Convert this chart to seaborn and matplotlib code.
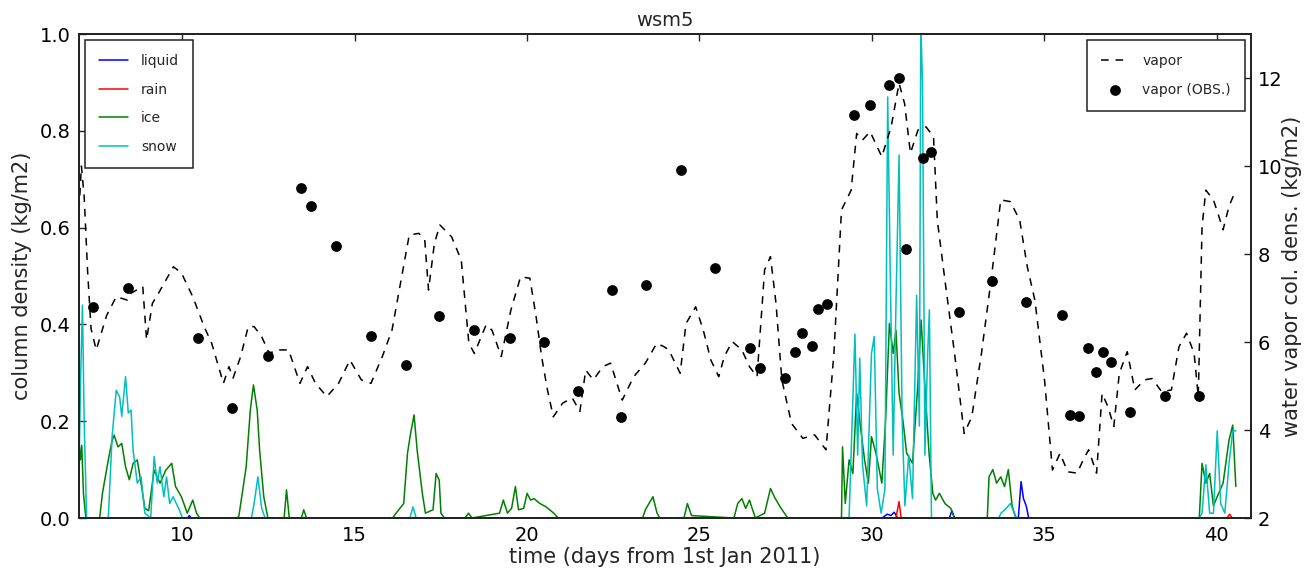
import matplotlib
matplotlib.use("Agg")
import matplotlib.pyplot as plt
import seaborn as sns
import pandas as pd

# ---------------- data ----------------
vap_t = [7.0, 7.07, 7.15, 7.25, 7.35, 7.5, 7.8, 8.08, 8.41, 8.51,
         8.85, 8.96, 9.13, 9.3, 9.74, 9.97, 10.3, 10.63, 10.85, 11.19,
         11.35, 11.47, 11.69, 11.91, 12.08, 12.3, 12.52, 12.74, 13.08, 13.41,
         13.63, 13.86, 14.19, 14.53, 14.86, 15.19, 15.47, 15.8, 16.08, 16.36,
         16.58, 16.86, 17.03, 17.14, 17.31, 17.47, 17.81, 18.09, 18.31, 18.47,
         18.81, 18.98, 19.25, 19.53, 19.81, 20.08, 20.26, 20.42, 20.59, 20.76,
         21.03, 21.31, 21.53, 21.7, 21.92, 22.2, 22.42, 22.76, 23.09, 23.43,
         23.76, 23.98, 24.11, 24.44, 24.61, 24.89, 25.11, 25.33, 25.56, 25.72,
         25.95, 26.23, 26.45, 26.67, 26.89, 27.06, 27.22, 27.39, 27.67, 28.0,
         28.34, 28.67, 28.9, 29.12, 29.4, 29.56, 29.73, 29.95, 30.29, 30.56,
         30.79, 30.95, 31.12, 31.34, 31.57, 31.79, 31.9, 32.12, 32.4, 32.68,
         32.9, 33.18, 33.46, 33.74, 34.02, 34.29, 34.51, 34.73, 35.01, 35.24,
         35.46, 35.68, 35.96, 36.13, 36.29, 36.52, 36.68, 36.85, 37.02, 37.18,
         37.41, 37.63, 37.91, 38.13, 38.41, 38.69, 38.91, 39.13, 39.35, 39.47,
         39.58, 39.69, 39.91, 40.07, 40.19, 40.36, 40.52]
vap_v = [9.0, 10.0, 9.3, 7.6, 6.3, 5.82, 6.6, 7.03, 6.95, 7.11,
         7.26, 6.05, 6.88, 7.1, 7.71, 7.57, 7.03, 6.35, 5.97, 5.06,
         5.44, 5.18, 5.67, 6.35, 6.35, 6.12, 5.74, 5.82, 5.82, 5.06,
         5.44, 5.06, 4.76, 5.06, 5.59, 5.14, 5.06, 5.67, 6.27, 7.48,
         8.43, 8.47, 8.32, 7.18, 8.24, 8.66, 8.39, 7.86, 5.97, 5.74,
         6.39, 6.27, 5.67, 6.73, 7.48, 7.45, 6.58, 5.67, 4.91, 4.3,
         4.61, 4.73, 4.42, 5.36, 5.14, 5.44, 5.52, 4.68, 5.21, 5.52,
         5.97, 5.89, 5.82, 5.29, 6.42, 6.8, 6.27, 5.59, 5.21, 5.67,
         6.01, 5.82, 5.44, 5.21, 7.64, 7.94, 6.88, 5.14, 4.15, 3.81,
         3.89, 3.55, 5.74, 9.0, 9.45, 10.74, 10.59, 10.78, 10.21, 10.89,
         11.88, 11.42, 10.29, 10.82, 10.89, 10.67, 8.77, 7.41, 5.74, 3.92,
         4.3, 5.74, 7.41, 9.23, 9.19, 8.77, 7.71, 6.95, 5.14, 3.09,
         3.47, 3.05, 3.02, 3.32, 3.55, 3.02, 4.83, 4.53, 4.08, 5.29,
         5.78, 4.91, 5.14, 5.17, 4.87, 4.91, 5.89, 6.2, 5.74, 4.76,
         8.62, 9.45, 9.23, 8.85, 8.55, 9.08, 9.38]

obs_t = [7.41, 8.42, 10.46, 11.45, 12.49, 13.45, 13.74, 14.47, 15.46, 16.48,
         17.44, 18.45, 19.5, 20.49, 21.48, 22.47, 22.73, 23.45, 24.47, 25.46,
         26.48, 26.77, 27.47, 27.76, 27.96, 28.25, 28.45, 28.69, 29.47, 29.94,
         30.49, 30.78, 30.98, 31.48, 31.71, 32.52, 33.48, 34.47, 35.52, 35.75,
         36.01, 36.27, 36.51, 36.71, 36.94, 37.49, 38.51, 39.5]
obs_v = [6.8, 7.23, 6.09, 4.5, 5.68, 9.5, 9.09, 8.18, 6.14, 5.48,
         6.59, 6.27, 6.09, 6.0, 4.89, 7.18, 4.3, 7.3, 9.91, 7.68,
         5.86, 5.41, 5.18, 5.77, 6.2, 5.91, 6.75, 6.86, 11.16, 11.39,
         11.84, 12.0, 8.11, 10.18, 10.32, 6.68, 7.39, 6.91, 6.61, 4.34,
         4.32, 5.86, 5.32, 5.77, 5.55, 4.41, 4.77, 4.77]

liq_t = [7.0, 10.15, 10.2, 10.25, 30.3, 30.45, 30.55, 30.65, 30.75, 32.25,
         32.32, 32.4, 34.25, 34.33, 34.4, 34.48, 34.55, 40.56]
liq_v = [0.0, 0.0, 0.005, 0.0, 0.0, 0.008, 0.005, 0.012, 0.0, 0.0,
         0.015, 0.0, 0.0, 0.075, 0.04, 0.025, 0.0, 0.0]

rain_t = [7.0, 30.7, 30.79, 30.85, 40.3, 40.38, 40.45, 40.56]
rain_v = [0.0, 0.0, 0.034, 0.0, 0.0, 0.008, 0.0, 0.0]

ice_t = [7.0, 7.04, 7.08, 7.13, 7.2, 7.6, 7.68, 7.85, 7.96, 8.02,
         8.13, 8.24, 8.35, 8.46, 8.57, 8.69, 8.8, 8.91, 9.02, 9.18,
         9.35, 9.52, 9.69, 9.8, 9.97, 10.14, 10.3, 10.41, 10.5, 11.6,
         11.64, 11.85, 11.97, 12.06, 12.17, 12.24, 12.36, 12.48, 12.95, 13.02,
         13.1, 13.45, 13.52, 13.6, 16.1, 16.2, 16.42, 16.53, 16.62, 16.72,
         16.81, 16.89, 16.96, 17.05, 17.27, 17.36, 17.45, 17.5, 17.6, 18.2,
         18.3, 18.4, 19.2, 19.31, 19.43, 19.55, 19.66, 19.75, 19.9, 20.0,
         20.1, 20.2, 20.37, 20.55, 20.77, 20.9, 23.35, 23.43, 23.65, 23.77,
         23.85, 24.55, 24.65, 24.77, 26.0, 26.11, 26.23, 26.34, 26.45, 26.62,
         26.89, 27.06, 27.17, 27.34, 27.56, 29.12, 29.15, 29.23, 29.34, 29.45,
         29.56, 29.68, 29.79, 29.9, 29.99, 30.12, 30.29, 30.4, 30.51, 30.62,
         30.7, 30.79, 30.9, 31.01, 31.18, 31.33, 31.43, 31.54, 31.66, 31.77,
         31.85, 31.96, 32.12, 32.29, 32.4, 33.35, 33.4, 33.51, 33.62, 33.74,
         33.85, 33.96, 34.07, 34.18, 39.5, 39.58, 39.69, 39.8, 39.91, 40.02,
         40.19, 40.36, 40.47, 40.56]
ice_v = [0.16, 0.12, 0.15, 0.05, 0.0, 0.0, 0.051, 0.12, 0.16, 0.171,
         0.147, 0.154, 0.106, 0.079, 0.113, 0.12, 0.072, 0.02, 0.015, 0.099,
         0.072, 0.099, 0.113, 0.065, 0.044, 0.01, 0.037, 0.01, 0.0, 0.0,
         0.005, 0.106, 0.223, 0.275, 0.223, 0.14, 0.044, 0.0, 0.0, 0.058,
         0.0, 0.0, 0.017, 0.0, 0.0, 0.01, 0.03, 0.134, 0.175, 0.213,
         0.14, 0.092, 0.051, 0.01, 0.017, 0.092, 0.078, 0.01, 0.0, 0.0,
         0.01, 0.0, 0.01, 0.037, 0.01, 0.02, 0.065, 0.017, 0.02, 0.051,
         0.037, 0.04, 0.03, 0.023, 0.01, 0.0, 0.0, 0.017, 0.044, 0.01,
         0.0, 0.0, 0.03, 0.005, 0.0, 0.03, 0.04, 0.02, 0.037, 0.0,
         0.01, 0.061, 0.044, 0.023, 0.0, 0.0, 0.147, 0.03, 0.12, 0.092,
         0.258, 0.182, 0.12, 0.072, 0.168, 0.134, 0.072, 0.203, 0.402, 0.34,
         0.388, 0.258, 0.203, 0.134, 0.113, 0.271, 0.409, 0.271, 0.134, 0.051,
         0.037, 0.051, 0.03, 0.02, 0.0, 0.0, 0.085, 0.1, 0.072, 0.085,
         0.065, 0.1, 0.025, 0.0, 0.0, 0.113, 0.072, 0.092, 0.025, 0.044,
         0.072, 0.16, 0.192, 0.065]

snow_t = [7.0, 7.05, 7.1, 7.15, 7.22, 7.85, 7.96, 8.08, 8.18, 8.24,
          8.35, 8.43, 8.51, 8.57, 8.69, 8.8, 8.91, 9.08, 9.18, 9.27,
          9.35, 9.46, 9.54, 9.63, 9.73, 9.91, 10.0, 12.0, 12.08, 12.19,
          12.3, 12.4, 16.6, 16.69, 16.78, 29.34, 29.51, 29.59, 29.65, 29.73,
          29.85, 29.99, 30.07, 30.16, 30.27, 30.38, 30.46, 30.54, 30.62, 30.7,
          30.79, 30.88, 30.96, 31.07, 31.18, 31.3, 31.38, 31.42, 31.47, 31.54,
          31.62, 31.67, 31.73, 33.68, 33.75, 33.9, 34.02, 34.13, 34.2, 39.5,
          39.58, 39.69, 39.8, 39.91, 40.02, 40.12, 40.24, 40.36, 40.47, 40.56]
snow_v = [0.1, 0.3, 0.44, 0.2, 0.0, 0.0, 0.168, 0.264, 0.25, 0.21,
          0.292, 0.217, 0.223, 0.14, 0.072, 0.085, 0.01, 0.0, 0.127, 0.072,
          0.106, 0.044, 0.085, 0.03, 0.044, 0.017, 0.0, 0.0, 0.03, 0.085,
          0.02, 0.0, 0.0, 0.023, 0.0, 0.0, 0.38, 0.13, 0.33, 0.11,
          0.025, 0.34, 0.375, 0.06, 0.01, 0.06, 0.87, 0.48, 0.13, 0.44,
          0.75, 0.2, 0.025, 0.13, 0.04, 0.46, 0.19, 1.02, 0.9, 0.13,
          0.34, 0.43, 0.0, 0.0, 0.01, 0.02, 0.03, 0.01, 0.0, 0.0,
          0.01, 0.11, 0.01, 0.01, 0.18, 0.03, 0.01, 0.11, 0.18, 0.18]

x_ticks = [10, 15, 20, 25, 30, 35, 40]
left_ticks = [0.0, 0.2, 0.4, 0.6, 0.8, 1.0]
right_ticks = [2, 4, 6, 8, 10, 12]

# ---------------- style ----------------
sns.set_theme(style="white")
plt.rcParams['font.family'] = ['DejaVu Sans']
plt.rcParams['axes.edgecolor'] = '#222222'
plt.rcParams['axes.linewidth'] = 1.3

W, H = 1305, 573
fig = plt.figure(figsize=(W / 100, H / 100), dpi=100)
ax = fig.add_axes([79 / W, (H - 518) / H, (1251 - 79) / W, (518 - 34) / H])

series = [(liq_t, liq_v, '#0000ff', 'liquid'),
          (rain_t, rain_v, '#ff0000', 'rain'),
          (ice_t, ice_v, '#008000', 'ice'),
          (snow_t, snow_v, '#00bfbf', 'snow')]
for t, v, c, lab in series:
    df = pd.DataFrame({'t': t, 'v': v})
    sns.lineplot(data=df, x='t', y='v', ax=ax, color=c, lw=1.1, label=lab,
                 estimator=None, sort=False, legend=False)

ax.set_xlim(7, 41)
ax.set_ylim(0, 1)
ax.set_xticks(x_ticks)
ax.set_yticks(left_ticks)
ax.set_yticklabels([f"{v:.1f}" for v in left_ticks])
ax.tick_params(axis='both', direction='in', length=5, width=1, labelsize=14,
               colors='#222222', labelcolor='black', pad=6)
ax.tick_params(axis='x', top=True)
ax.set_xlabel('time (days from 1st Jan 2011)', fontsize=15, labelpad=1)
ax.set_ylabel('column density (kg/m2)', fontsize=15)
ax.yaxis.set_label_coords(-0.040, 0.5)
ax.set_title('wsm5', fontsize=14, pad=6)

leg1 = ax.legend(loc='upper left', fontsize=10, frameon=True, fancybox=False,
                 edgecolor='#222222', framealpha=1, borderpad=1.0,
                 labelspacing=1.05, handlelength=2.1, handletextpad=0.9,
                 borderaxespad=0.45)
leg1.get_frame().set_linewidth(1.1)

ax2 = ax.twinx()
dfv = pd.DataFrame({'t': vap_t, 'v': vap_v})
sns.lineplot(data=dfv, x='t', y='v', ax=ax2, color='black', lw=1.1,
             label='vapor', estimator=None, sort=False, legend=False)
ax2.lines[-1].set_linestyle((0, (5, 4.5)))
dfo = pd.DataFrame({'t': obs_t, 'v': obs_v})
sns.scatterplot(data=dfo, x='t', y='v', ax=ax2, color='black', s=60,
                edgecolor='black', linewidth=0, label='vapor (OBS.)',
                legend=False, zorder=4)
ax2.set_ylim(2, 13)
ax2.set_yticks(right_ticks)
ax2.tick_params(axis='y', direction='in', length=5, width=1, labelsize=14,
                colors='#222222', labelcolor='black', pad=5)
ax2.set_ylabel('water vapor col. dens. (kg/m2)', fontsize=15)
ax2.yaxis.set_label_coords(1.0262, 0.5)
ax2.set_xlabel('')
ax2.set_xlim(7, 41)

leg2 = ax2.legend(loc='upper right', fontsize=10, frameon=True, fancybox=False,
                  edgecolor='#222222', framealpha=1, borderpad=1.0,
                  labelspacing=1.05, handlelength=2.1, handletextpad=0.9,
                  borderaxespad=0.45, scatterpoints=1, numpoints=1)
leg2.get_frame().set_linewidth(1.1)

fig.savefig('out.png', dpi=100)
